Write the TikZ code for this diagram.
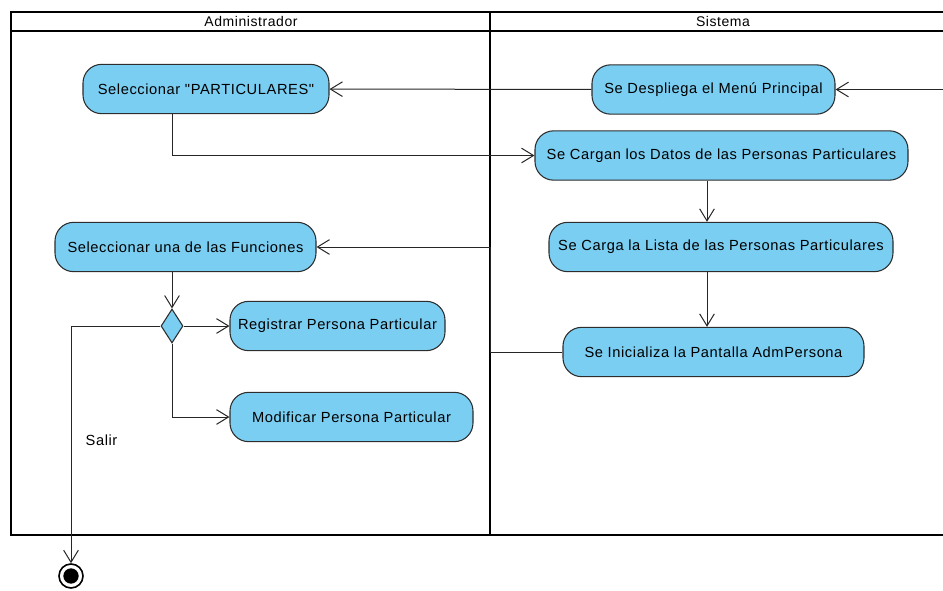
\documentclass[tikz,border=0pt]{standalone}
\usepackage{fontspec}
\setmainfont{Liberation Sans}[LetterSpace=4,Ligatures=TeXOff]
\usetikzlibrary{arrows.meta,shapes.geometric}
\definecolor{actfill}{RGB}{122,206,242}
\definecolor{actline}{RGB}{45,45,45}

\begin{document}
\begin{tikzpicture}[x=0.75pt,y=-0.75pt,
  font=\fontsize{11}{13}\selectfont,
  act/.style={draw=actline,fill=actfill,line width=0.8pt,rounded corners=14pt,minimum height=37pt,inner sep=2pt},
  flow/.style={draw=black!85,line width=0.75pt,-{Straight Barb[length=9pt,width=11pt]}},
  lane/.style={line width=2.2pt}]
\useasboundingbox (0,0) rectangle (943,590);
\clip (0,0) rectangle (943,590);
\draw[lane] (950,12) -- (11,12) -- (11,535) -- (950,535);
\draw[line width=1.8pt] (11,31) -- (950,31);
\draw[lane] (490,12) -- (490,535);
\node[font=\fontsize{10.5}{12}\selectfont] (hadm) at (251,21.5) {Administrador};
\node[font=\fontsize{10.5}{12}\selectfont] (hsis) at (723,21.5) {Sistema};
\node[act,minimum width=184.5pt] (sel) at (206,89) {Seleccionar "PARTICULARES"};
\node[act,minimum width=182.25pt] (menu) at (713.5,89.5) {Se Despliega el Menú Principal};
\node[act,minimum width=279.75pt] (datos) at (721.5,155.5) {Se Cargan los Datos de las Personas Particulares};
\node[act,minimum width=195.75pt] (func) at (185.5,247) {Seleccionar una de las Funciones};
\node[act,minimum width=258pt] (lista) at (721,247) {Se Carga la Lista de las Personas Particulares};
\node[draw=actline,fill=actfill,line width=0.8pt,diamond,minimum width=16.5pt,minimum height=25.5pt,inner sep=0pt] (dec) at (172,326) {};
\node[act,minimum width=161.25pt] (reg) at (337.5,326) {Registrar Persona Particular};
\node[act,minimum width=225.75pt] (pant) at (713.5,352) {Se Inicializa la Pantalla AdmPersona};
\node[act,minimum width=182.25pt] (mod) at (351.5,417) {Modificar Persona Particular};
\node[circle,draw,line width=1.2pt,minimum size=18pt,inner sep=0pt] (fin) at (71,576) {};
\node[circle,fill,minimum size=11.5pt,inner sep=0pt] (finin) at (fin) {};
\node[anchor=west] (salir) at (81,440) {Salir};
\coordinate (ent) at (943,89.5);
\coordinate (colx) at (707,0);
\coordinate (div) at (490,0);
\draw[flow] (ent) -- (menu);
\draw[flow] (menu) -- (sel);
\draw[flow] (sel.south -| dec) |- (datos);
\draw[flow] (datos.south -| colx) -- (lista.north -| colx);
\draw[flow] (lista.south -| colx) -- (pant.north -| colx);
\draw[flow] (pant.west) -- (pant.west -| div) -- (func.east -| div) -- (func.east);
\draw[flow] (func.south -| dec) -- (dec.north);
\draw[flow] (dec) -- (reg);
\draw[flow] (dec) |- (mod);
\draw[flow] (dec) -| (fin);
\end{tikzpicture}
\end{document}
